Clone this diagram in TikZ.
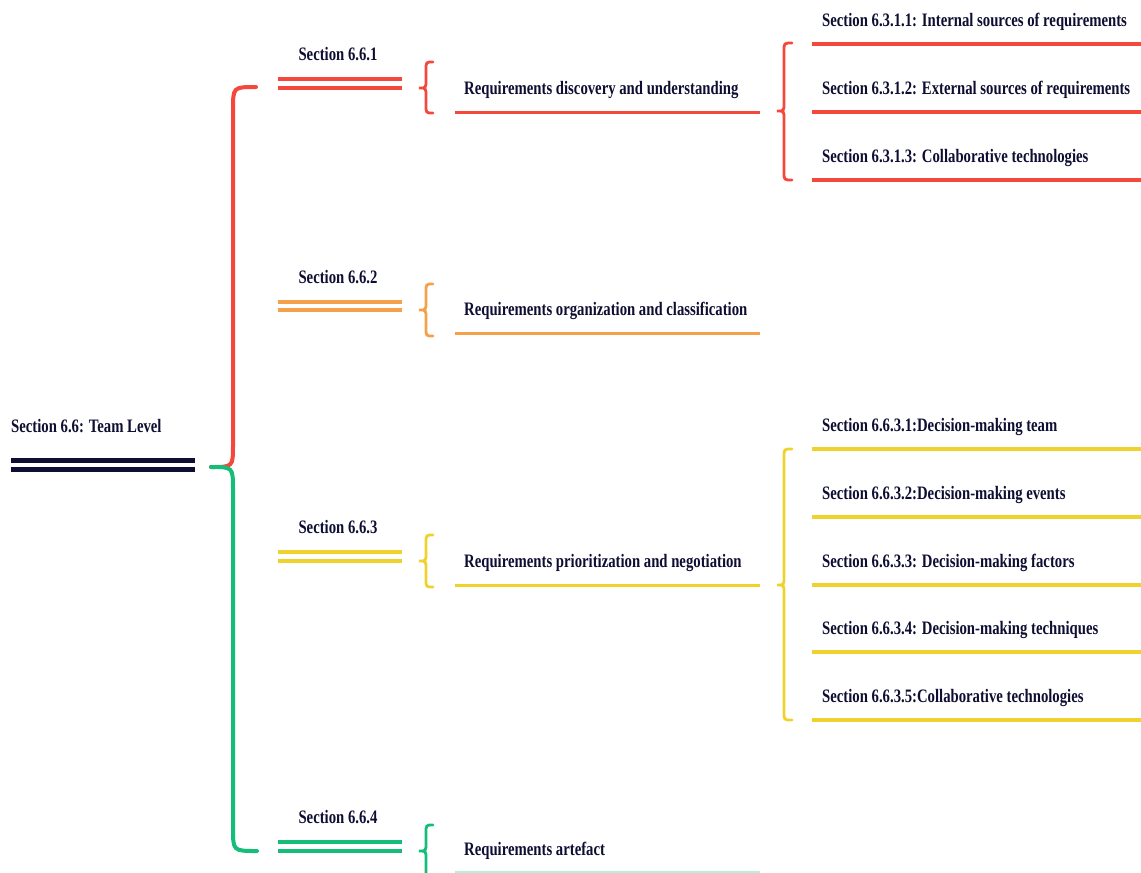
\documentclass[tikz,border=0pt]{standalone}
\usepackage{fontspec}
\setmainfont{Liberation Serif}[FakeStretch=0.775]
\definecolor{cRed}{RGB}{245,72,60}
\definecolor{cOrange}{RGB}{245,160,75}
\definecolor{cYellow}{RGB}{240,210,45}
\definecolor{cGreen}{RGB}{20,190,120}
\definecolor{cMint}{RGB}{180,240,220}
\definecolor{cNavy}{RGB}{14,14,50}
\newcommand{\mybrace}[7]{\draw[brc,#7] (#1,#4) .. controls (#2,#4) .. (#2,#4+8) -- (#2,#5-8) .. controls (#2,#5) .. (#3,#5) .. controls (#2,#5) .. (#2,#5+8) -- (#2,#6-8) .. controls (#2,#6) .. (#1,#6);}
\tikzset{
  txt/.style={font=\fontsize{19}{22}\selectfont\bfseries, text=cNavy, inner sep=0pt, anchor=base west},
  head/.style={txt, anchor=base},
  dbl/.style={line width=3.3pt},
  uline/.style={line width=3pt},
  leaf/.style={line width=3.4pt},
  brc/.style={line width=2.8pt, line cap=round},
  mainbrc/.style={line width=4pt, line cap=round},
}
\begin{document}
\begin{tikzpicture}[x=1pt,y=-1pt]
\useasboundingbox (0,0) rectangle (1141,873);
% root
\node[txt] (root) at (11,432) {Section 6.6: Team Level};
\coordinate (rA) at (11,460.5); \coordinate (rB) at (195,460.5);
\coordinate (rC) at (11,469.5); \coordinate (rD) at (195,469.5);
\draw[cNavy,line width=5pt] (rA) -- (rB) (rC) -- (rD);
% main brace
\coordinate (tip) at (211,467);
\coordinate (mTop) at (256,87);
\coordinate (mBot) at (257,851);
\draw[mainbrc,cRed] (mTop) .. controls (233,87) .. (233,110) -- (233,445) .. controls (233,467) .. (tip);
\draw[mainbrc,cGreen] (tip) .. controls (233,467) .. (233,490) -- (233,828) .. controls (233,851) .. (mBot);

% ---------- 6.6.1
\node[head] (h1) at (338,60) {Section 6.6.1};
\draw[dbl,cRed] (278,79) -- (402,79) (278,88) -- (402,88);
\mybrace{433}{426}{419}{62}{88}{113}{cRed}
\node[txt] (s1) at (464,94) {Requirements discovery and understanding};
\draw[uline,cRed] (455,112) -- (760,112);
\mybrace{792}{784}{777}{43}{111}{180}{cRed}
\node[txt] (l11) at (822,26) {Section 6.3.1.1: Internal sources of requirements};
\node[txt] (l12) at (822,94) {Section 6.3.1.2: External sources of requirements};
\node[txt] (l13) at (822,162) {Section 6.3.1.3: Collaborative technologies};
\draw[leaf,cRed] (812,44) -- (1141,44) (812,112) -- (1141,112) (812,180) -- (1141,180);

% ---------- 6.6.2
\node[head] (h2) at (338,283) {Section 6.6.2};
\draw[dbl,cOrange] (278,302) -- (402,302) (278,310) -- (402,310);
\mybrace{433}{426}{419}{284}{310}{336}{cOrange}
\node[txt] (s2) at (464,315) {Requirements organization and classification};
\draw[uline,cOrange] (455,333) -- (760,333);

% ---------- 6.6.3
\node[head] (h3) at (338,533) {Section 6.6.3};
\draw[dbl,cYellow] (278,552) -- (402,552) (278,561) -- (402,561);
\mybrace{433}{426}{419}{535}{561}{587}{cYellow}
\node[txt] (s3) at (464,567) {Requirements prioritization and negotiation};
\draw[uline,cYellow] (455,585) -- (760,585);
\mybrace{792}{784}{777}{449}{585}{720}{cYellow}
\node[txt] (l31) at (822,431) {Section 6.6.3.1:Decision-making team};
\node[txt] (l32) at (822,499) {Section 6.6.3.2:Decision-making events};
\node[txt] (l33) at (822,567) {Section 6.6.3.3: Decision-making factors};
\node[txt] (l34) at (822,634) {Section 6.6.3.4: Decision-making techniques};
\node[txt] (l35) at (822,702) {Section 6.6.3.5:Collaborative technologies};
\draw[leaf,cYellow] (812,449) -- (1141,449) (812,517) -- (1141,517) (812,585) -- (1141,585) (812,652) -- (1141,652) (812,720) -- (1141,720);

% ---------- 6.6.4
\node[head] (h4) at (338,823) {Section 6.6.4};
\draw[dbl,cGreen] (278,842) -- (402,842) (278,851) -- (402,851);
\mybrace{433}{426}{419}{825}{851}{877}{cGreen}
\node[txt] (s4) at (464,855) {Requirements artefact};
\draw[uline,cMint] (455,872) -- (760,872);
\end{tikzpicture}
\end{document}
